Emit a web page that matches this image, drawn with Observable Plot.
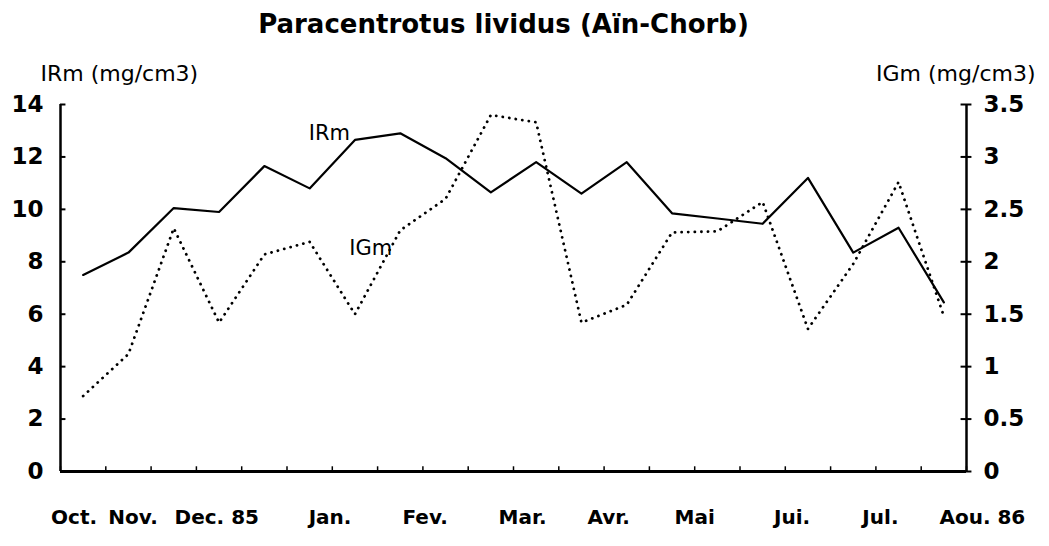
<!DOCTYPE html>
<html>
<head>
<meta charset="utf-8">
<script src="https://cdn.jsdelivr.net/npm/d3@7"></script>
<script src="https://cdn.jsdelivr.net/npm/@observablehq/plot@0.6"></script>
<style>
  html, body { margin: 0; padding: 0; background: #fff; }
  #chart { width: 1049px; height: 546px; }
</style>
</head>
<body>
<div id="chart"></div>
<script>
// ---- data ----
const sampleIndex = [0, 1, 2, 3, 4, 5, 6, 7, 8, 9, 10, 11, 12, 13, 14, 15, 16, 17, 18, 19];
const irmValues = [7.5, 8.35, 10.05, 9.9, 11.65, 10.8, 12.65, 12.9, 11.95, 10.65, 11.8, 10.6, 11.8, 9.85, 9.65, 9.45, 11.2, 8.35, 9.3, 6.45];
const igmValues = [0.72, 1.12, 2.32, 1.42, 2.07, 2.19, 1.5, 2.3, 2.6, 3.4, 3.33, 1.42, 1.59, 2.28, 2.29, 2.57, 1.36, 1.98, 2.76, 1.48];
const monthLabels = ["Oct.", "Nov.", "Dec. 85", "Jan.", "Fev.", "Mar.", "Avr.", "Mai", "Jui.", "Jul.", "Aou. 86"];
const monthPositions = [-0.2, 1.1, 2.95, 5.45, 7.55, 9.7, 11.6, 13.5, 15.65, 17.6, 19.85];
const leftTicks = [0, 2, 4, 6, 8, 10, 12, 14];
const rightTicks = [0, 0.5, 1, 1.5, 2, 2.5, 3, 3.5];
const titleText = "Paracentrotus lividus (Aïn-Chorb)";
const leftAxisTitle = "IRm (mg/cm3)";
const rightAxisTitle = "IGm (mg/cm3)";
const seriesNames = ["IRm", "IGm"];

// ---- derived tables ----
const ratio = 14 / 3.5; // right axis units -> left axis units
const irm = sampleIndex.map((i) => ({i, v: irmValues[i]}));
const igm = sampleIndex.map((i) => ({i, v: igmValues[i] * ratio}));
const bandEdges = d3.range(sampleIndex.length + 1).map((k) => k - 0.5);
const xDomain = [-0.5, sampleIndex.length - 0.5];

const font = "DejaVu Sans";

const chart = Plot.plot({
  width: 1049,
  height: 546,
  marginLeft: 60,
  marginRight: 83,
  marginTop: 104,
  marginBottom: 75,
  x: {domain: xDomain, axis: null},
  y: {domain: [0, 14], axis: null},
  style: {fontFamily: font, background: "white", color: "black", overflow: "visible"},
  marks: [
    // axis lines
    Plot.ruleX(xDomain, {stroke: "black", strokeWidth: 2.5}),
    Plot.ruleY([0], {stroke: "black", strokeWidth: 3}),
    // left ticks (inward) and right ticks (crossing)
    Plot.ruleY(leftTicks, {x1: xDomain[0], x2: xDomain[0] + 0.12, stroke: "black", strokeWidth: 2}),
    Plot.ruleY(leftTicks, {x1: xDomain[1] - 0.12, x2: xDomain[1] + 0.12, stroke: "black", strokeWidth: 2}),
    // bottom ticks (upward)
    Plot.ruleX(bandEdges, {y1: 0, y2: 0.18, stroke: "black", strokeWidth: 1.5}),
    // tick labels
    Plot.axisY(leftTicks, {anchor: "left", tickSize: 0, tickPadding: 17, fontSize: 23, fontWeight: "bold", tickFormat: (d) => String(d), label: null}),
    Plot.axisY(rightTicks.map((t) => t * ratio), {anchor: "right", tickSize: 0, tickPadding: 17, fontSize: 23, fontWeight: "bold", tickFormat: (d) => String(d / ratio), label: null}),
    // series
    Plot.line(irm, {x: "i", y: "v", stroke: "black", strokeWidth: 2.2}),
    Plot.line(igm, {x: "i", y: "v", stroke: "black", strokeWidth: 2.8, strokeDasharray: "0.1,6.5", strokeLinecap: "round"}),
    // series labels
    Plot.text([irm[6]], {x: "i", y: "v", text: () => seriesNames[0], textAnchor: "end", lineAnchor: "bottom", dx: -5, dy: 0, fontSize: 21}),
    Plot.text([igm[7]], {x: "i", y: "v", text: () => seriesNames[1], textAnchor: "end", lineAnchor: "middle", dx: -8, dy: 18, fontSize: 21}),
    // month labels
    Plot.text(monthLabels, {x: (d, i) => monthPositions[i], text: (d) => d, frameAnchor: "bottom", dy: 52, fontSize: 20, fontWeight: "bold"}),
    // title and axis titles
    Plot.text([titleText], {frameAnchor: "top", text: (d) => d, dx: -10, dy: -72, lineAnchor: "bottom", fontSize: 26, fontWeight: "bold"}),
    Plot.text([leftAxisTitle], {frameAnchor: "top-left", text: (d) => d, textAnchor: "start", dx: -20, dy: -24, lineAnchor: "bottom", fontSize: 22}),
    Plot.text([rightAxisTitle], {frameAnchor: "top-right", text: (d) => d, textAnchor: "end", dx: 69, dy: -24, lineAnchor: "bottom", fontSize: 22})
  ]
});

document.getElementById("chart").appendChild(chart);
</script>
</body>
</html>
